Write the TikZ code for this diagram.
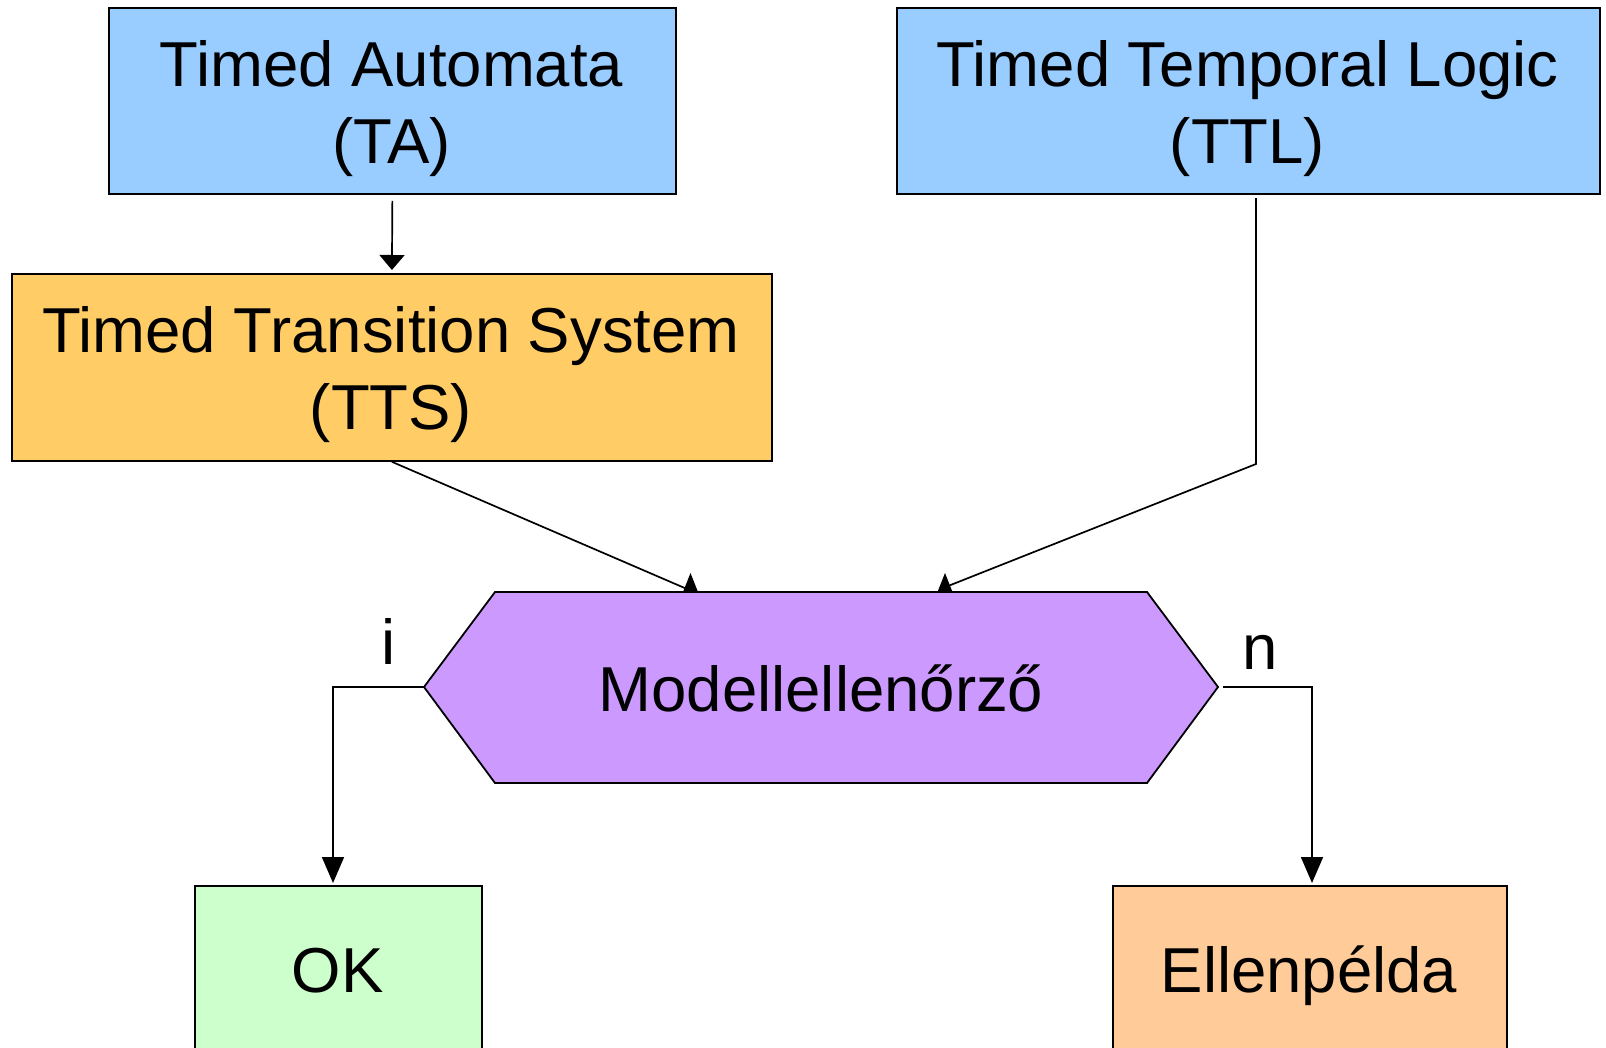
\documentclass[tikz,border=0pt]{standalone}
\usepackage{fontspec}
\setmainfont{Liberation Sans}
\usetikzlibrary{arrows.meta,calc}
\definecolor{boxBlue}{HTML}{99CCFF}
\definecolor{boxGold}{HTML}{FFCC66}
\definecolor{boxViolet}{HTML}{CC99FF}
\definecolor{boxGreen}{HTML}{CCFFCC}
\definecolor{boxPeach}{HTML}{FFCC99}
\begin{document}
\begin{tikzpicture}[x=1pt,y=-1pt,
  boxshape/.style={draw=black, line width=1.8pt, inner sep=0pt, anchor=north west},
  lbl/.style={inner sep=0pt, anchor=base, font=\fontsize{63.5}{75}\selectfont},
  conn/.style={line width=1.7pt, draw=black},
  tipflat/.style={-{Triangle[width=25pt,length=15pt]}},
  tiplong/.style={-{Triangle[width=22pt,length=26pt]}},
  ]
\clip (0,0) rectangle (1606,1047);
\fill[white] (0,0) rectangle (1606,1047);

% boxes
\node[boxshape, fill=boxBlue, minimum width=567pt, minimum height=186pt] (ta) at (108,7) {};
\node[boxshape, fill=boxBlue, minimum width=703pt, minimum height=186pt] (ttl) at (896,7) {};
\node[boxshape, fill=boxGold, minimum width=760pt, minimum height=187pt] (tts) at (11,273) {};
\node[boxshape, fill=boxGreen, minimum width=287pt, minimum height=300pt] (ok) at (194,885) {};
\node[boxshape, fill=boxPeach, minimum width=394pt, minimum height=300pt] (ell) at (1112,885) {};

% hexagon
\coordinate (hexW) at (424,687);
\coordinate (hexNW) at (495,592);
\coordinate (hexNE) at (1147,592);
\coordinate (hexE) at (1218,687);
\coordinate (hexSE) at (1147,783);
\coordinate (hexSW) at (495,783);
\filldraw[fill=boxViolet, draw=black, line width=1.8pt, line join=miter]
  (hexW) -- (hexNW) -- (hexNE) -- (hexE) -- (hexSE) -- (hexSW) -- cycle;

% texts
\node[lbl] (ta1) at (391.5,86) {Timed Automata};
\node[lbl] (ta2) at (391.5,163) {(TA)};
\node[lbl] (ttl1) at (1247.5,86) {Timed Temporal Logic};
\node[lbl] (ttl2) at (1247.5,163) {(TTL)};
\node[lbl] (tts1) at (391,352) {Timed Transition System};
\node[lbl] (tts2) at (391,429) {(TTS)};
\node[lbl] (mc) at (821,711) {Modellellenőrző};
\node[lbl] (okt) at (337.5,992) {OK};
\node[lbl] (ellt) at (1309,992) {Ellenpélda};
\node[lbl] (yes) at (389,664) {i};
\node[lbl] (no) at (1260,669) {n};

% connectors
\draw[conn, tipflat, shorten <=6pt, shorten >=3pt] (ta.south) -- (tts.north);

\coordinate (hinA) at (690.5,592);
\coordinate (hinAend) at (687,589);
\draw[conn] (tts.south) -- (hinAend);
\fill (hinA) ++(0,-19) -- ++(-7.5,19) -- ++(15,0) -- cycle;

\coordinate (ttlout) at (1256,198);
\coordinate (ttlbend) at (1256,464);
\coordinate (hinB) at (945,592);
\coordinate (hinBend) at (943,588);
\draw[conn, line join=miter] (ttlout) -- (ttlbend) -- (hinBend);
\fill (hinB) ++(0,-19) -- ++(-7.5,19) -- ++(15,0) -- cycle;

\coordinate (okin) at (333,883);
\coordinate (ellin) at (1312,883);
\draw[conn, tiplong, line join=miter] (hexW) -| (okin);
\draw[conn, tiplong, line join=miter] (hexE) ++(5,0) -| (ellin);
\end{tikzpicture}
\end{document}
